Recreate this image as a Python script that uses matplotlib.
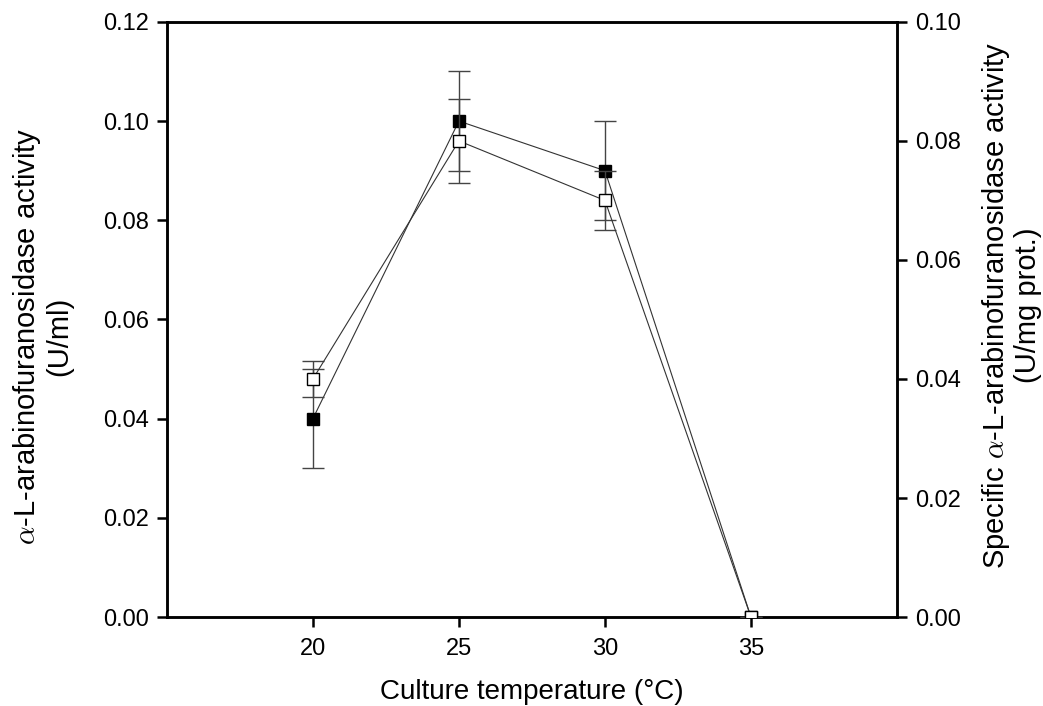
import matplotlib.pyplot as plt
import numpy as np

plt.rcParams['font.family'] = ['Liberation Sans', 'DejaVu Sans']
plt.rcParams['mathtext.fontset'] = 'cm'

# Culture temperature (°C)
temperature = [20, 25, 30, 35]

# Volumetric activity (U/ml), left axis
activity = [0.04, 0.10, 0.09, 0.0]
activity_err = [0.01, 0.01, 0.01, 0.0]

# Specific activity (U/mg prot.), right axis
specific = [0.040, 0.080, 0.070, 0.0]
specific_err = [0.003, 0.007, 0.005, 0.0]

W, H = 1043, 706
fig = plt.figure(figsize=(W / 100, H / 100), dpi=100)
ax = fig.add_axes([0.160, 0.126, 0.700, 0.843])
ax2 = ax.twinx()

line_kw = dict(color='#333333', linewidth=0.8, elinewidth=1.0, ecolor='#444444',
               capsize=8, capthick=1.0, marker='s', markersize=9,
               markeredgecolor='black', markeredgewidth=1.0)

ax.errorbar(temperature, activity, yerr=activity_err, markerfacecolor='black',
            zorder=3, **line_kw)
ax2.errorbar(temperature, specific, yerr=specific_err, markerfacecolor='white',
             zorder=3, **line_kw)

ax.set_xlim(15, 40)
ax.set_ylim(0, 0.12)
ax2.set_ylim(0, 0.10)
ax.set_xticks([20, 25, 30, 35])
ax.set_yticks(np.arange(0, 0.121, 0.02))
ax2.set_yticks(np.arange(0, 0.101, 0.02))
ax.yaxis.set_major_formatter(plt.FormatStrFormatter('%.2f'))
ax2.yaxis.set_major_formatter(plt.FormatStrFormatter('%.2f'))

for a in (ax, ax2):
    for s in a.spines.values():
        s.set_linewidth(1.8)
    a.tick_params(direction='out', length=7, width=1.8, labelsize=17, pad=6)
ax.tick_params(axis='x', pad=8)

ax.set_xlabel('Culture temperature (°C)', fontsize=20, labelpad=14)

# y labels placed in figure pixels
fig.text(42 / W, 1 - 336 / H,
         r'$\alpha$-L-arabinofuranosidase activity' + '\n(U/ml)',
         rotation=90, ha='center', va='center', multialignment='center',
         fontsize=21, linespacing=1.1)
fig.text(1011 / W, 1 - 305 / H,
         'Specific ' + r'$\alpha$-L-arabinofuranosidase activity' + '\n(U/mg prot.)',
         rotation=90, ha='center', va='center', multialignment='center',
         fontsize=21, linespacing=1.05)

fig.savefig('out.png', dpi=100)
